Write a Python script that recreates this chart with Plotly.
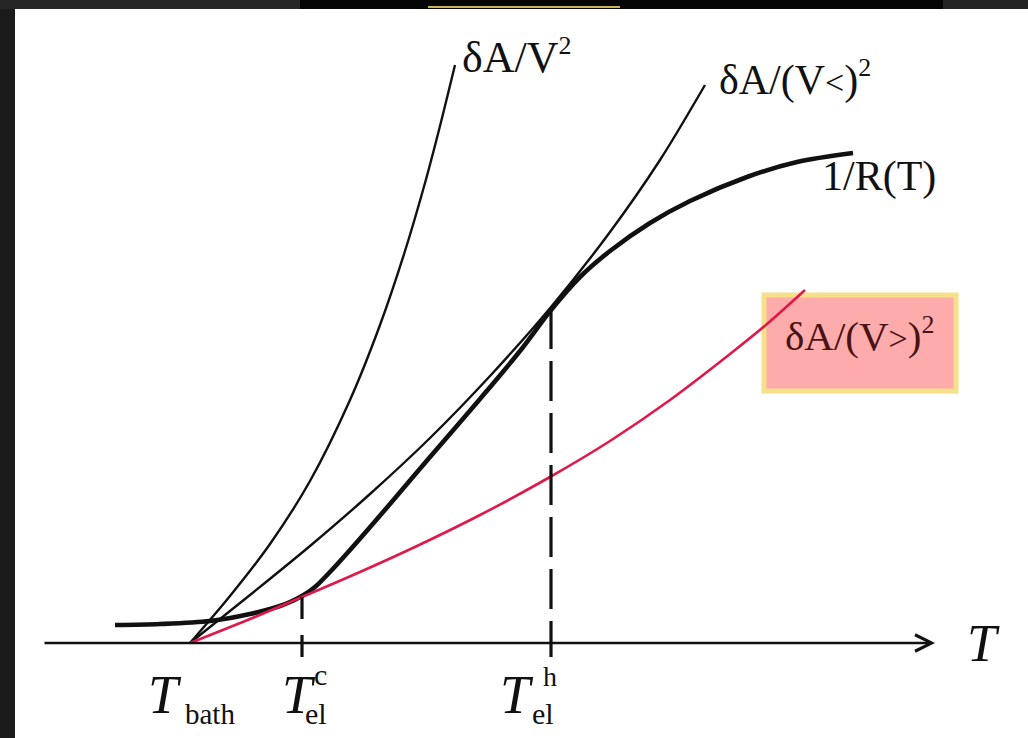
import plotly.graph_objects as go

# ---- data (schematic units: T relative to T_bath, conductance-like G) ----
T_bath = 0.0
T_el_c = 1.12
T_el_h = 3.61
G_at_c = 0.46
G_at_h = 3.34
G_tick_bottom = -0.14

# δA/V^2
T_A = [0.00, 0.40, 0.80, 1.20, 1.60, 1.90, 2.15, 2.35, 2.50, 2.65]
G_A = [0.00, 0.47, 0.99, 1.62, 2.43, 3.18, 3.92, 4.60, 5.17, 5.78]

# δA/(V<)^2
T_B = [0.00, 0.60, 1.20, 1.80, 2.40, 3.00, 3.61, 4.20, 4.70, 5.15]
G_B = [0.00, 0.48, 0.97, 1.49, 2.05, 2.67, 3.36, 4.11, 4.83, 5.58]

# 1/R(T)
T_R = [-0.75, -0.30, 0.20, 0.60, 0.90, 1.00, 1.12, 1.25, 1.40, 1.60, 2.00, 2.40, 2.90,
       3.30, 3.61, 3.90, 4.20, 4.60, 5.00, 5.57, 6.07, 6.63]
G_R = [0.18, 0.19, 0.22, 0.29, 0.37, 0.41, 0.47, 0.56, 0.71, 0.93, 1.39, 1.86, 2.44,
       2.92, 3.33, 3.66, 3.92, 4.20, 4.42, 4.66, 4.81, 4.90]

# δA/(V>)^2
T_C = [0.00, 0.60, 1.12, 1.70, 2.27, 2.90, 3.60, 4.20, 4.80, 5.40, 5.77, 6.15]
G_C = [0.00, 0.24, 0.46, 0.71, 0.97, 1.28, 1.66, 2.02, 2.43, 2.89, 3.19, 3.53]

axis_start, axis_end = -1.47, 7.45

SERIF = "Liberation Serif, Times New Roman, serif"
INK = "#111111"

fig = go.Figure()

def curve(xs, ys, color, width):
    fig.add_trace(go.Scatter(x=xs, y=ys, mode="lines", hoverinfo="skip",
                             line=dict(color=color, width=width, shape="spline", smoothing=0.9)))

curve(T_A, G_A, INK, 2.4)
curve(T_B, G_B, INK, 2.4)
curve(T_R, G_R, INK, 4.6)
curve(T_C, G_C, "#e0194a", 2.6)

# vertical markers
fig.add_trace(go.Scatter(x=[T_el_h, T_el_h], y=[G_at_h, G_tick_bottom], mode="lines",
                         hoverinfo="skip", line=dict(color=INK, width=3.2, dash="40px,12px")))
fig.add_trace(go.Scatter(x=[T_el_c, T_el_c], y=[G_at_c, G_tick_bottom], mode="lines",
                         hoverinfo="skip", line=dict(color=INK, width=3.2, dash="22px,16px")))

shapes = [
    # white slide area
    dict(type="rect", xref="paper", yref="paper", x0=15/1028, x1=1, y0=0, y1=1-9/738,
         fillcolor="white", line=dict(width=0), layer="below"),
    # top bar and yellow sliver
    dict(type="rect", xref="paper", yref="paper", x0=0, x1=300/1028, y0=1-9/738, y1=1,
         fillcolor="#262626", line=dict(width=0), layer="below"),
    dict(type="rect", xref="paper", yref="paper", x0=300/1028, x1=943/1028, y0=1-9/738, y1=1,
         fillcolor="#050505", line=dict(width=0), layer="below"),
    dict(type="rect", xref="paper", yref="paper", x0=943/1028, x1=1, y0=1-9/738, y1=1,
         fillcolor="#242424", line=dict(width=0), layer="below"),
    dict(type="line", xref="paper", yref="paper", x0=428/1028, x1=620/1028,
         y0=1-7/738, y1=1-7/738, line=dict(color="#c9b25a", width=2), layer="below"),
    # highlighted box for δA/(V>)^2
    dict(type="rect", xref="paper", yref="paper", x0=764/1028, x1=956/1028,
         y0=1-391/738, y1=1-295/738, fillcolor="#fdabab",
         line=dict(color="#f6e08a", width=5), layer="below"),
]

ann = []
def label(text, x, y, size, xanchor="left", yanchor="bottom", color=INK):
    ann.append(dict(text=text, x=x, y=y, xref="x", yref="y", showarrow=False,
                    xanchor=xanchor, yanchor=yanchor,
                    font=dict(family=SERIF, size=size, color=color)))

# axis with arrow
ann.append(dict(x=axis_end, y=0, ax=axis_start, ay=0, xref="x", yref="y",
                axref="x", ayref="y", text="", showarrow=True, arrowhead=5,
                arrowsize=1.4, arrowwidth=2.3, arrowcolor=INK))

SUP2 = "<sup><span style='font-size:26px'>2</span></sup>"
label("δA/V" + SUP2, 2.70, 5.59, 44)
label("δA/(V<span style='font-size:34px'>&lt;</span>)" + SUP2, 5.27, 5.37, 42)
label("1/R(T)", 6.30, 4.41, 42)
label("δA/(V<span style='font-size:34px'>&gt;</span>)" + SUP2, 6.69, 2.82, 41,
      xanchor="center", color="#4a1212")

label("<i>T</i>", T_bath - 0.44, -0.84, 54)
label("bath", T_bath - 0.07, -0.89, 29)
label("<i>T</i>", T_el_c - 0.22, -0.84, 54)
label("c", T_el_c + 0.10, -0.50, 30)
label("el", T_el_c + 0.01, -0.89, 30)
label("<i>T</i>", T_el_h - 0.53, -0.84, 54)
label("h", T_el_h - 0.10, -0.51, 28)
label("el", T_el_h - 0.21, -0.89, 30)
label("<i>T</i>", 7.75, -0.31, 53)

fig.update_layout(
    width=1028, height=738,
    margin=dict(l=0, r=0, t=0, b=0),
    paper_bgcolor="#1b1b1b",
    plot_bgcolor="rgba(0,0,0,0)",
    showlegend=False,
    xaxis=dict(range=[-1.9, 8.38], visible=False, fixedrange=True),
    yaxis=dict(range=[-0.95, 6.43], visible=False, fixedrange=True),
    shapes=shapes,
    annotations=ann,
)

fig.write_html("out.html", config={"displayModeBar": False},
               post_script="document.body.style.margin='0';"
                           "document.body.style.background='#1b1b1b';")
